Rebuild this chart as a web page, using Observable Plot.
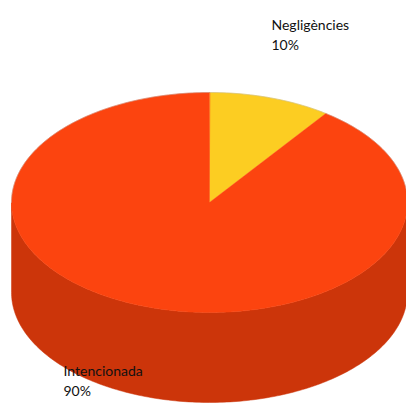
<!DOCTYPE html>
<html><head><meta charset="utf-8">
<script src="https://cdn.jsdelivr.net/npm/d3@7"></script>
<script src="https://cdn.jsdelivr.net/npm/@observablehq/plot@0.6"></script>
<style>html,body{margin:0;padding:0;background:#fff;overflow:hidden}</style>
</head><body><div id="chart"></div>
<script>
const categories = ["Negligències", "Intencionada"];
const values = [10, 90];
const percentLabels = ["10%", "90%"];

// styling / layout (not data)
const topColors = {"Negligències": "#FCCD22", "Intencionada": "#FC440F"};
const sideColors = {"Negligències": "#C9A31A", "Intencionada": "#CC350A"};
const labelPos = {"Negligències": [271, 15], "Intencionada": [63, 361]};
const W = 406, H = 403;
const cx = 209, cy = 202, rx = 198, ry = 110, depth = 90;

const total = d3.sum(values);
const pt = (a, dy = 0) => {
  const r = a * Math.PI / 180;
  return {x: cx + rx * Math.sin(r), y: cy - ry * Math.cos(r) + dy};
};
const arc = (a0, a1, dy = 0) => {
  const out = [];
  const n = Math.max(2, Math.ceil(Math.abs(a1 - a0)));
  for (let k = 0; k <= n; k++) out.push(pt(a0 + (a1 - a0) * k / n, dy));
  return out;
};

const sideRows = [], topRows = [], labelRows = [];
let acc = 0;
categories.forEach((c, i) => {
  const a0 = acc / total * 360, a1 = (acc + values[i]) / total * 360;
  acc += values[i];
  [{x: cx, y: cy}, ...arc(a0, a1)].forEach(p => topRows.push({id: c, cat: c, ...p}));
  const lo = Math.max(a0, 90), hi = Math.min(a1, 270);
  if (hi > lo) {
    [...arc(lo, hi), ...arc(hi, lo, depth)].forEach(p => sideRows.push({id: c, cat: c, ...p}));
  }
  labelRows.push({cat: c, text: c + "\n" + percentLabels[i], x: labelPos[c][0], y: labelPos[c][1]});
});

const chart = Plot.plot({
  width: W, height: H,
  margin: 0,
  x: {domain: [0, W], range: [0, W], axis: null},
  y: {domain: [0, H], range: [0, H], axis: null},
  style: {background: "#fff"},
  marks: [
    Plot.line(sideRows, {x: "x", y: "y", z: "id", curve: "linear-closed",
      fill: d => sideColors[d.cat], stroke: d => sideColors[d.cat], strokeWidth: 0.5}),
    Plot.line(topRows, {x: "x", y: "y", z: "id", curve: "linear-closed",
      fill: d => topColors[d.cat], stroke: d => topColors[d.cat], strokeWidth: 0.5}),
    Plot.line(arc(-90, 90), {x: "x", y: "y", stroke: "#b8b8b8", strokeWidth: 0.6, strokeOpacity: 0.7}),
    Plot.text(labelRows, {x: "x", y: "y", text: "text", textAnchor: "start", lineAnchor: "top",
      fontSize: 14, lineHeight: 1.45, fill: "#111", fontFamily: "Lato"})
  ]
});
document.getElementById("chart").appendChild(chart);
</script>
</body></html>
